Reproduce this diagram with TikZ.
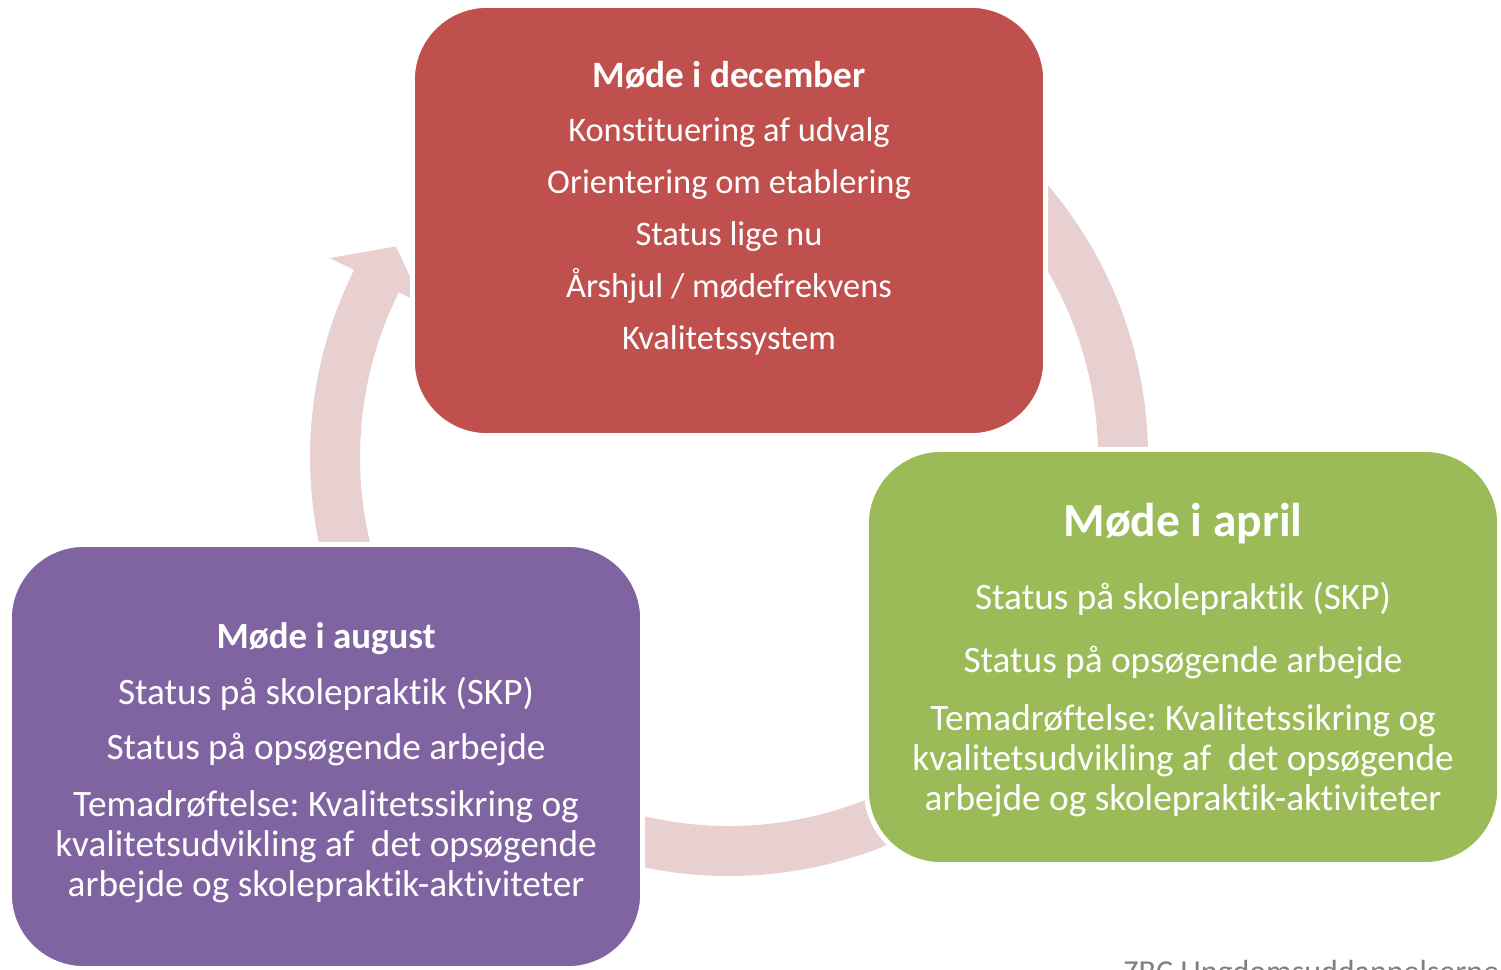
\documentclass[tikz,border=0pt]{standalone}
\usepackage{fontspec}
\setmainfont{Carlito}[RawFeature={-liga,-clig,-calt,-dlig}]
\frenchspacing
\usetikzlibrary{positioning}
\definecolor{decred}{RGB}{192,80,77}
\definecolor{aprgreen}{RGB}{155,187,89}
\definecolor{augpurple}{RGB}{128,100,162}
\definecolor{ringpink}{RGB}{232,208,209}
\definecolor{footgray}{RGB}{128,128,128}

\begin{document}
\begin{tikzpicture}[x=0.01cm,y=0.01cm]
	\tikzstyle{box}=[rectangle, rounded corners=0.745cm, draw=white, line width=0.05cm,
		inner sep=0pt, minimum width=6.33cm]
	\tikzstyle{boxtext}=[text=white, align=center, inner sep=0pt]
	\useasboundingbox (0,0) rectangle (1501,969);
	\clip (0,0) rectangle (1501,969);
	\coordinate (hub) at (729,512);

	% the ring of arrows
	\fill[ringpink] ([shift={(40.4:419)}]hub) arc[start angle=40.4, end angle=-15, radius=419]
		-- ([shift={(-15:446)}]hub) -- ([shift={(-21:394)}]hub) -- ([shift={(-15:342)}]hub)
		-- ([shift={(-15:369)}]hub) arc[start angle=-15, end angle=40.4, radius=369] -- cycle;
	\fill[ringpink] ([shift={(-50:419)}]hub) arc[start angle=-50, end angle=-112, radius=419]
		-- ([shift={(-112:446)}]hub) -- ([shift={(-118:394)}]hub) -- ([shift={(-112:342)}]hub)
		-- ([shift={(-112:369)}]hub) arc[start angle=-112, end angle=-50, radius=369] -- cycle;
	\fill[ringpink] ([shift={(200:419)}]hub) arc[start angle=200, end angle=153.5, radius=419]
		-- ([shift={(153.5:446)}]hub) -- ([shift={(147.7:394)}]hub) -- ([shift={(153.5:342)}]hub)
		-- ([shift={(153.5:369)}]hub) arc[start angle=153.5, end angle=200, radius=369] -- cycle;

	% the three meetings
	\node[box, fill=decred, minimum height=4.30cm] (dec) at (729,748.5) {};
	\node[box, fill=aprgreen, minimum height=4.15cm] (apr) at (1183,312) {};
	\node[box, fill=augpurple, minimum height=4.24cm] (aug) at (326,212.5) {};

	\node[boxtext, font={\fontsize{9.8}{14.8}\selectfont\lineskiplimit=-20pt}] (dectext) at (729,761)
		{{\bfseries\fontsize{10.6}{12}\selectfont Møde i december}\\[0.6pt]
		Konstituering af udvalg\\ Orientering om etablering\\ Status lige nu\\
		Årshjul / mødefrekvens\\ Kvalitetssystem};
	\node[boxtext, font={\fontsize{10.6}{11.38}\selectfont\lineskiplimit=-20pt}] (aprtext) at (1183,309)
		{{\bfseries\fontsize{13.5}{15}\selectfont Møde i april}\\[9.4pt]
		Status på skolepraktik (SKP)\\[6.3pt] Status på opsøgende arbejde\\[5.1pt]
		Temadrøftelse: Kvalitetssikring og\\ kvalitetsudvikling af~ det opsøgende\\
		arbejde og skolepraktik-aktiviteter};
	\node[boxtext, font={\fontsize{10.6}{11.38}\selectfont\lineskiplimit=-20pt}] (augtext) at (326,206.5)
		{{\bfseries\fontsize{10.5}{12}\selectfont Møde i august}\\[4.6pt]
		Status på skolepraktik (SKP)\\[4.3pt] Status på opsøgende arbejde\\[4.8pt]
		Temadrøftelse: Kvalitetssikring og\\ kvalitetsudvikling af~ det opsøgende\\
		arbejde og skolepraktik-aktiviteter};

	\node[anchor=base west, inner sep=0pt, text=footgray, font=\fontsize{9.1}{11}\selectfont]
		(zbc) at (1123,-13) {ZBC Ungdomsuddannelserne};
\end{tikzpicture}
\end{document}
